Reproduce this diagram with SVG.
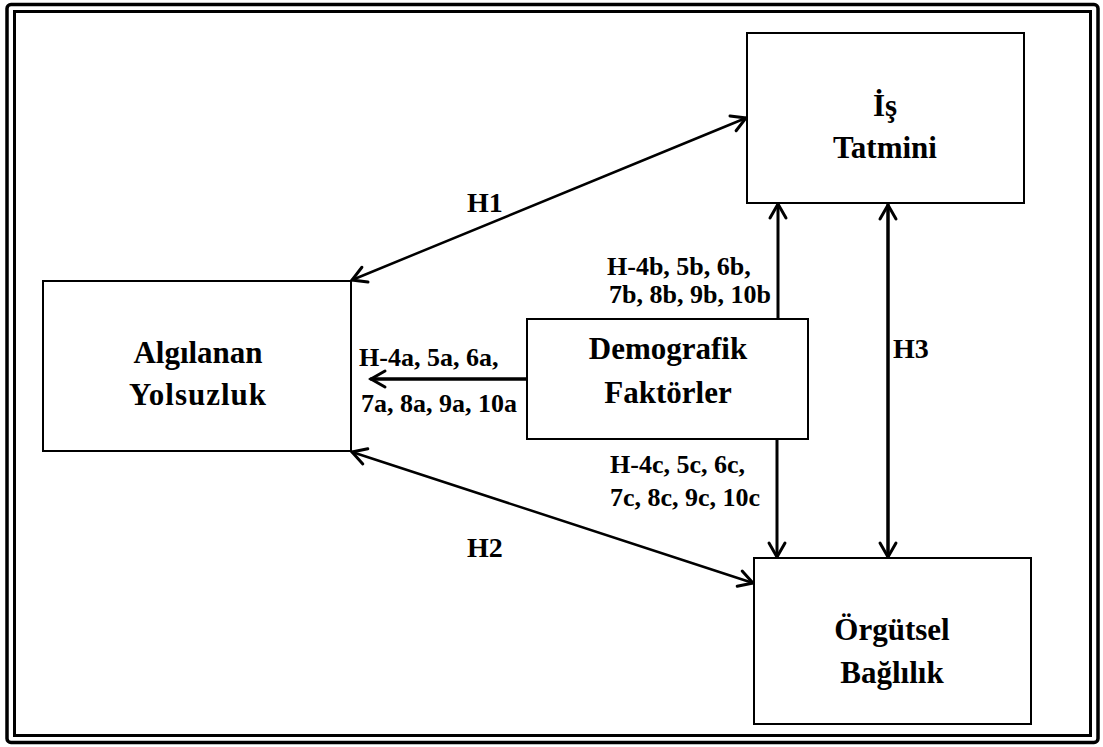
<svg xmlns="http://www.w3.org/2000/svg" width="1103" height="747" viewBox="0 0 1103 747">
<style>
.box{fill:#fff;stroke:#000;stroke-width:2}
.t{font-family:"Liberation Serif","Times New Roman",serif;font-weight:bold;fill:#000}
.bt{font-size:31px;text-anchor:middle}
.lt{font-size:26px}
.ht{font-size:28px}
.c{fill:none;stroke:#000;stroke-linecap:round}
</style>
<defs>
<marker id="ah" markerUnits="userSpaceOnUse" markerWidth="40" markerHeight="40" refX="0" refY="0" orient="auto-start-reverse" overflow="visible">
<path d="M-14,-8 L0,0 L-14,8" fill="none" stroke="#000" stroke-width="3" stroke-linecap="round" stroke-linejoin="miter"/>
</marker>
</defs>
<rect width="1103" height="747" fill="#fff"/>
<rect x="7" y="4.5" width="1091" height="738" rx="4" fill="none" stroke="#000" stroke-width="3.5"/>
<rect x="14.5" y="11.5" width="1076" height="724" fill="none" stroke="#000" stroke-width="3"/>
<g id="connectors">
<line class="c" x1="352" y1="280" x2="746" y2="118" stroke-width="2.5" marker-start="url(#ah)" marker-end="url(#ah)"/>
<line class="c" x1="352" y1="452" x2="753" y2="583" stroke-width="2.5" marker-start="url(#ah)" marker-end="url(#ah)"/>
<line class="c" x1="527" y1="379" x2="371" y2="379" stroke-width="3.5" marker-end="url(#ah)"/>
<line class="c" x1="778" y1="319" x2="778" y2="204" stroke-width="3" marker-end="url(#ah)"/>
<line class="c" x1="777" y1="439" x2="777" y2="557" stroke-width="3" marker-end="url(#ah)"/>
<line class="c" x1="888" y1="205" x2="888" y2="557" stroke-width="3.5" marker-start="url(#ah)" marker-end="url(#ah)"/>
<text class="t ht" x="467" y="212">H1</text>
<text class="t ht" x="467" y="557">H2</text>
<text class="t ht" x="893" y="358">H3</text>
<text class="t lt" x="359" y="366">H-4a, 5a, 6a,</text>
<text class="t lt" x="361" y="412">7a, 8a, 9a, 10a</text>
<text class="t lt" x="607" y="275">H-4b, 5b, 6b,</text>
<text class="t lt" x="609" y="303">7b, 8b, 9b, 10b</text>
<text class="t lt" x="610" y="473">H-4c, 5c, 6c,</text>
<text class="t lt" x="610" y="506">7c, 8c, 9c, 10c</text>
</g>
<g id="is-tatmini">
<rect class="box" x="747" y="33" width="277" height="170"/>
<text class="t bt" x="885" y="116">İş</text>
<text class="t bt" x="885" y="158">Tatmini</text>
</g>
<g id="algilanan-yolsuzluk">
<rect class="box" x="43" y="281" width="308" height="170"/>
<text class="t bt" x="198" y="363">Algılanan</text>
<text class="t bt" x="198" y="405" letter-spacing="1">Yolsuzluk</text>
</g>
<g id="demografik-faktorler">
<rect class="box" x="527" y="319" width="281" height="120"/>
<text class="t bt" x="668" y="359">Demografik</text>
<text class="t bt" x="668" y="403">Faktörler</text>
</g>
<g id="orgutsel-baglilik">
<rect class="box" x="754" y="558" width="277" height="166"/>
<text class="t bt" x="892" y="640">Örgütsel</text>
<text class="t bt" x="892" y="683">Bağlılık</text>
</g>
</svg>
